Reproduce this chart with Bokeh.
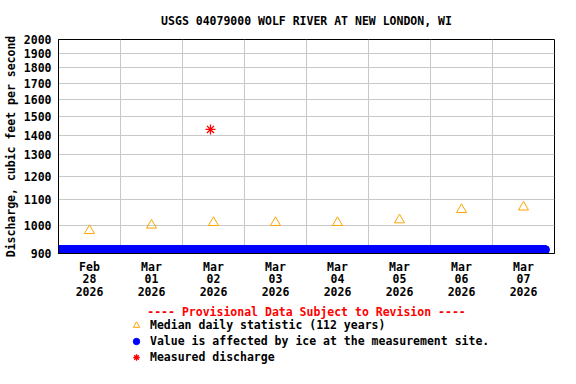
import pandas as pd
from bokeh.plotting import figure
from bokeh.layouts import column
from bokeh.models import (FixedTicker, CustomJSTickFormatter, PrintfTickFormatter,
                          Legend, LegendItem, Label, Range1d, ColumnDataSource)
from bokeh.embed import file_html
from bokeh.resources import INLINE

TITLE = "USGS 04079000 WOLF RIVER AT NEW LONDON, WI"
Y_LABEL = "Discharge, cubic feet per second"
NOTE = "---- Provisional Data Subject to Revision ----"
MEDIAN_LABEL = "Median daily statistic (112 years)"
ICE_LABEL = "Value is affected by ice at the measurement site."
MEASURED_LABEL = "Measured discharge"

# Median daily statistic (plotted at noon of each day)
median_dates = ["2026-02-28 12:00", "2026-03-01 12:00", "2026-03-02 12:00", "2026-03-03 12:00",
                "2026-03-04 12:00", "2026-03-05 12:00", "2026-03-06 12:00", "2026-03-07 12:00"]
median_values = [980, 1000, 1010, 1010, 1010, 1020, 1060, 1070]

# Field measurement
measured_times = ["2026-03-02 10:50"]
measured_values = [1430]

# Ice-affected 15-minute record, shown along the bottom of the graph
ice_start = "2026-02-28 00:00"
ice_end = "2026-03-07 20:30"
ice_level = 913

# Axes
x_start = "2026-02-28 00:00"
x_end = "2026-03-08 00:00"
y_ticks = [900, 1000, 1100, 1200, 1300, 1400, 1500, 1600, 1700, 1800, 1900, 2000]
day_label_dates = ["2026-02-28", "2026-03-01", "2026-03-02", "2026-03-03",
                   "2026-03-04", "2026-03-05", "2026-03-06", "2026-03-07"]

FONT = "DejaVu Sans Mono"
FS = "11.5px"


def ms(s):
    return pd.Timestamp(s).value / 1e6


ice_times = pd.date_range(ice_start, ice_end, freq="15min")
ice_values = [ice_level] * len(ice_times)

src_ice = ColumnDataSource(dict(x=ice_times, y=ice_values))
src_med = ColumnDataSource(dict(x=pd.to_datetime(median_dates), y=median_values))
src_meas = ColumnDataSource(dict(x=pd.to_datetime(measured_times), y=measured_values))

p = figure(width=576, height=304, x_axis_type="datetime", y_axis_type="log",
           x_range=Range1d(ms(x_start), ms(x_end)), y_range=Range1d(900, 2000),
           output_backend="svg", toolbar_location=None,
           min_border_left=58, min_border_right=22, min_border_top=39, min_border_bottom=51)

p.title.text = TITLE
p.title.align = "center"
p.title.text_font = FONT
p.title.text_font_size = FS
p.title.text_font_style = "bold"
p.title.text_color = "black"
p.title.standoff = 23

p.outline_line_color = "black"
p.outline_line_width = 1

# grids
p.xgrid.ticker = FixedTicker(ticks=[ms(d) for d in pd.date_range(x_start, x_end, freq="D")])
p.ygrid.ticker = FixedTicker(ticks=y_ticks)
for g in (p.xgrid, p.ygrid):
    g.grid_line_color = "#c8c8c8"
    g.grid_line_width = 1

# y axis
p.yaxis.ticker = FixedTicker(ticks=y_ticks)
p.yaxis.formatter = PrintfTickFormatter(format="%d")
p.yaxis.axis_label = Y_LABEL
p.yaxis.axis_label_standoff = 3
p.yaxis.major_label_standoff = 7

# x axis
p.xaxis.ticker = FixedTicker(ticks=[ms(d) + 12 * 3600 * 1000 for d in day_label_dates])
p.xaxis.formatter = CustomJSTickFormatter(code="""
const d = new Date(tick);
const m = ["Jan","Feb","Mar","Apr","May","Jun","Jul","Aug","Sep","Oct","Nov","Dec"][d.getUTCMonth()];
const dd = String(d.getUTCDate()).padStart(2, "0");
return m + "\\n" + dd + "\\n" + d.getUTCFullYear();
""")
p.xaxis.major_label_standoff = 6
p.xaxis.major_label_text_line_height = 0.9

for ax in (p.xaxis, p.yaxis):
    ax.axis_line_color = "black"
    ax.major_tick_line_color = None
    ax.minor_tick_line_color = None
    ax.major_tick_out = 0
    ax.major_tick_in = 0
    ax.major_label_text_font = FONT
    ax.major_label_text_font_size = FS
    ax.major_label_text_font_style = "bold"
    ax.major_label_text_color = "black"
    ax.axis_label_text_font = FONT
    ax.axis_label_text_font_size = FS
    ax.axis_label_text_font_style = "bold"
    ax.axis_label_text_color = "black"

ice_style = dict(marker="circle", size=8, fill_color="blue", line_color="blue")
med_style = dict(marker="triangle", size=10, fill_color=None, line_color="#FFA500", line_width=1)
meas_style = dict(marker="asterisk", size=10, line_color="#FF0000", line_width=1.3)

p.scatter("x", "y", source=src_ice, **ice_style)
p.scatter("x", "y", source=src_med, **med_style)
p.scatter("x", "y", source=src_meas, **meas_style)

# ---- key area below the graph (its frame is aligned with the graph's frame) ----
k = figure(width=576, height=80, x_range=Range1d(0, 1), y_range=Range1d(0, 1),
           output_backend="svg", toolbar_location=None,
           x_axis_location=None, y_axis_location=None,
           min_border_left=58, min_border_right=22, min_border_top=0, min_border_bottom=0)
k.outline_line_color = None
k.grid.visible = False

# same series sources; their values lie outside this panel's ranges, so only the key shows
k_med = k.scatter("x", "y", source=src_med, **med_style)
k_ice = k.scatter("x", "y", source=src_ice, **ice_style)
k_meas = k.scatter("x", "y", source=src_meas, **meas_style)

k.add_layout(Label(x=248, y=73, x_units="screen", y_units="screen", text=NOTE,
                   text_align="center", text_baseline="middle", text_color="#FF0000",
                   text_font=FONT, text_font_size=FS, text_font_style="bold"))

legend = Legend(items=[LegendItem(label=MEDIAN_LABEL, renderers=[k_med]),
                       LegendItem(label=ICE_LABEL, renderers=[k_ice]),
                       LegendItem(label=MEASURED_LABEL, renderers=[k_meas])],
                location=(70, 19), orientation="vertical",
                glyph_width=16, glyph_height=16, label_height=16, label_standoff=6,
                spacing=0, padding=0, margin=0, border_line_color=None, background_fill_alpha=0,
                label_text_font=FONT, label_text_font_size=FS, label_text_font_style="bold",
                label_text_color="black", label_text_baseline="middle")
k.add_layout(legend)

layout = column(p, k, spacing=0)
open("out.html", "w").write(file_html(layout, INLINE))
